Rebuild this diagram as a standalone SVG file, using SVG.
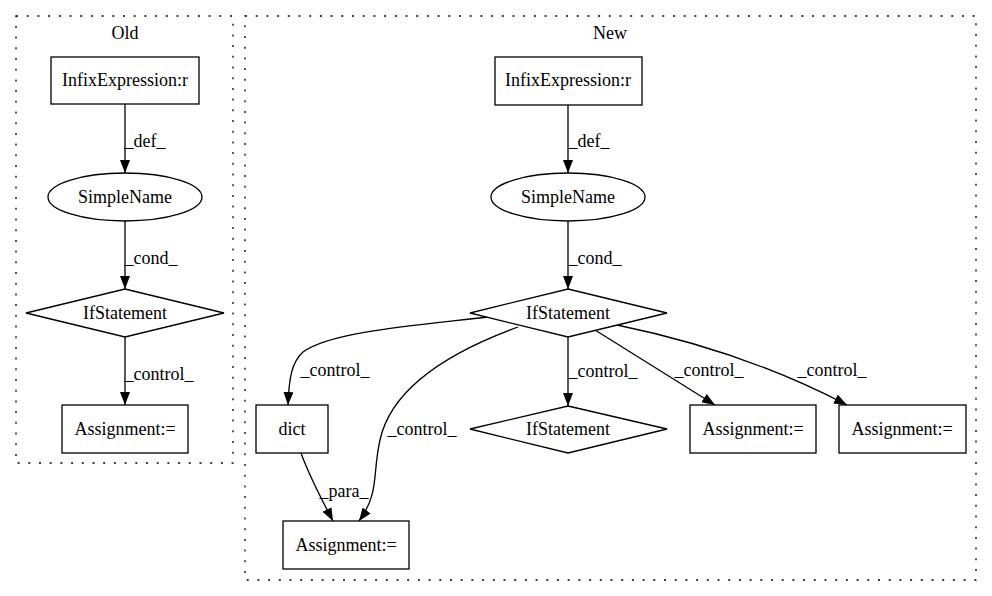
<svg xmlns="http://www.w3.org/2000/svg" width="992" height="596" viewBox="0 0 992 596">
<defs>
<marker id="arr" viewBox="0 0 13 10" refX="13" refY="5" markerWidth="13" markerHeight="10" markerUnits="userSpaceOnUse" orient="auto">
<path d="M0,0 L13,5 L0,10 z" fill="#000"/>
</marker>
<style>
text{font-family:"Liberation Serif","Times New Roman",serif;font-size:18px;fill:#000;text-anchor:middle}
.shape{fill:#fff;stroke:#000;stroke-width:1.3}
.cluster{fill:none;stroke:#000;stroke-width:1.3;stroke-dasharray:2,8.7}
.edge{fill:none;stroke:#000;stroke-width:1.3;marker-end:url(#arr)}
</style>
</defs>
<rect width="992" height="596" fill="#fff"/>
<g id="cluster_old">
<rect class="cluster" x="16" y="16" width="217" height="447"/>
<text x="125" y="39">Old</text>
</g>
<g id="cluster_new">
<rect class="cluster" x="245" y="16" width="731" height="564"/>
<text x="610" y="39">New</text>
</g>
<g id="connectors">
<path class="edge" d="M125,104 L125,173"/>
<path class="edge" d="M125,221 L125,289"/>
<path class="edge" d="M125,337 L125,405"/>
<path class="edge" d="M568,105 L568,173"/>
<path class="edge" d="M568,221 L568,289"/>
<path class="edge" d="M488,317 C410,326 330,332 303,352 C292,362 289,377 288,405"/>
<path class="edge" d="M518,327 C455,350 392,385 380,440 C372,475 380,492 359,521"/>
<path class="edge" d="M568,337 L568,406"/>
<path class="edge" d="M595,330 L715,405"/>
<path class="edge" d="M617,325 C700,342 780,370 847,405"/>
<path class="edge" d="M301,453 C310,478 322,500 333,521"/>
<text x="145" y="147">_def_</text>
<text x="151" y="264">_cond_</text>
<text x="159" y="380">_control_</text>
<text x="589" y="147">_def_</text>
<text x="595" y="264">_cond_</text>
<text x="335" y="376">_control_</text>
<text x="422" y="435">_control_</text>
<text x="603" y="377">_control_</text>
<text x="709" y="376">_control_</text>
<text x="832" y="376">_control_</text>
<text x="344" y="497">_para_</text>
</g>
<g id="old_infix">
<rect class="shape" x="51" y="57" width="148" height="47"/>
<text x="125" y="86">InfixExpression:r</text>
</g>
<g id="old_simplename">
<ellipse class="shape" cx="125" cy="197" rx="77" ry="24"/>
<text x="125" y="203">SimpleName</text>
</g>
<g id="old_if">
<polygon class="shape" points="125,289 224,313 125,337 26,313"/>
<text x="125" y="319">IfStatement</text>
</g>
<g id="old_assign">
<rect class="shape" x="62" y="405" width="126" height="48"/>
<text x="125" y="435">Assignment:=</text>
</g>
<g id="new_infix">
<rect class="shape" x="495" y="57" width="147" height="48"/>
<text x="568" y="86">InfixExpression:r</text>
</g>
<g id="new_simplename">
<ellipse class="shape" cx="568" cy="197" rx="77" ry="24"/>
<text x="568" y="203">SimpleName</text>
</g>
<g id="new_if">
<polygon class="shape" points="568,289 667,313 568,337 470,313"/>
<text x="568" y="319">IfStatement</text>
</g>
<g id="new_dict">
<rect class="shape" x="256" y="405" width="72" height="48"/>
<text x="292" y="435">dict</text>
</g>
<g id="new_if2">
<polygon class="shape" points="568,406 667,429 568,453 470,429"/>
<text x="568" y="435">IfStatement</text>
</g>
<g id="new_assign_mid">
<rect class="shape" x="690" y="405" width="126" height="48"/>
<text x="753" y="435">Assignment:=</text>
</g>
<g id="new_assign_right">
<rect class="shape" x="839" y="405" width="127" height="48"/>
<text x="902" y="435">Assignment:=</text>
</g>
<g id="new_assign_bottom">
<rect class="shape" x="283" y="521" width="126" height="48"/>
<text x="346" y="551">Assignment:=</text>
</g>
</svg>
